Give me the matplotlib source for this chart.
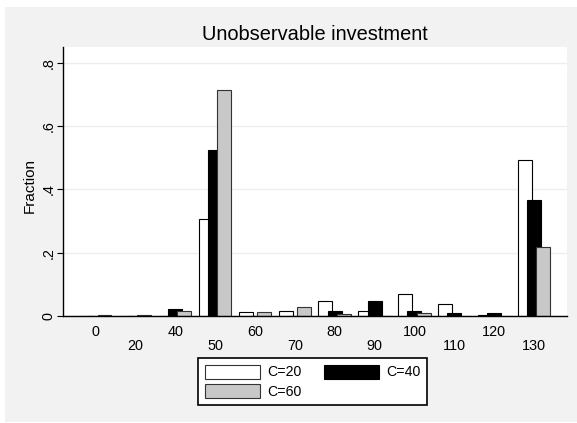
import matplotlib
matplotlib.use("Agg")
import matplotlib.pyplot as plt
from matplotlib.patches import Rectangle, Patch
import numpy as np

# ---- data ----
categories = ["0", "20", "40", "50", "60", "70", "80", "90", "100", "110", "120", "130"]
c20 = [0.0, 0.0, 0.0, 0.308, 0.013, 0.016, 0.048, 0.016, 0.068, 0.039, 0.004, 0.494]
c40 = [0.0, 0.0, 0.021, 0.524, 0.0, 0.0, 0.016, 0.048, 0.016, 0.008, 0.008, 0.366]
c60 = [0.004, 0.004, 0.015, 0.714, 0.012, 0.029, 0.005, 0.0, 0.008, 0.0, 0.0, 0.218]
series_labels = ["C=20", "C=40", "C=60"]
yticks = [0, 0.2, 0.4, 0.6, 0.8]
ytick_labels = ["0", ".2", ".4", ".6", ".8"]
title = "Unobservable investment"
ylabel = "Fraction"

plt.rcParams["font.family"] = ["Liberation Sans", "DejaVu Sans"]

W, H = 577, 423
fig = plt.figure(figsize=(W / 100, H / 100), dpi=100)
fig.patch.set_facecolor("white")
fig.add_artist(Rectangle((5 / W, 1 / H), 572 / W, 415 / H, transform=fig.transFigure,
                         facecolor="#f2f2f2", edgecolor="none", zorder=-10))

left, right, top, bottom = 62.7, 566.7, 46.7, 316.0
ax = fig.add_axes([left / W, 1 - bottom / H, (right - left) / W, (bottom - top) / H])
ax.set_facecolor("white")

x = np.arange(len(categories))
bw, off = 0.35, 0.23
ax.bar(x - off, c20, bw, color="white", edgecolor="black", linewidth=0.8, zorder=2)
ax.bar(x, c40, bw, color="black", edgecolor="black", linewidth=0.8, zorder=3)
ax.bar(x + off, c60, bw, color="#c8c8c8", edgecolor="#333333", linewidth=0.8, zorder=4)

ax.set_xlim(-0.818, len(categories) - 1 + 0.818)
ax.set_ylim(0, 0.851)

for s in ["top", "right"]:
    ax.spines[s].set_visible(False)
for s in ["left", "bottom"]:
    ax.spines[s].set_linewidth(1.0)
    ax.spines[s].set_zorder(6)

ax.set_axisbelow(True)
ax.yaxis.grid(True, color="#eeeeee", linewidth=1.0)

ax.set_yticks(yticks, ytick_labels, rotation=90, va="center")
ax.tick_params(axis="y", length=4.1, width=0.8, pad=1.0, labelsize=10.4)

ax.set_xticks(x, categories)
ax.tick_params(axis="x", length=0, labelsize=10.4)
for i, t in enumerate(ax.xaxis.get_major_ticks()):
    t.set_pad(6.2 if i % 2 == 0 else 16.8)

fig.text((left + right) / 2 / W, 1 - 40 / H, title, ha="center", va="baseline", fontsize=14.4)
fig.text(30 / W, 1 - 185.9 / H, ylabel, rotation=90, ha="center", va="center", fontsize=11)

handles = [Patch(facecolor="white", edgecolor="#333333", linewidth=0.8),
           Patch(facecolor="#c8c8c8", edgecolor="#333333", linewidth=0.8),
           Patch(facecolor="black", edgecolor="black", linewidth=0.8)]
labels = [series_labels[0], series_labels[2], series_labels[1]]
leg = fig.legend(handles, labels, loc="upper left", bbox_to_anchor=(198.3 / W, 1 - 358.3 / H),
                 ncol=2, fontsize=10.2, frameon=True, fancybox=False, edgecolor="black",
                 framealpha=1, borderpad=0.45, handlelength=3.9, handleheight=1.13,
                 handletextpad=0.5, columnspacing=1.6, labelspacing=0.35, borderaxespad=0)
leg.get_frame().set_linewidth(1.2)

fig.savefig("out.png", dpi=100, facecolor=fig.get_facecolor())
